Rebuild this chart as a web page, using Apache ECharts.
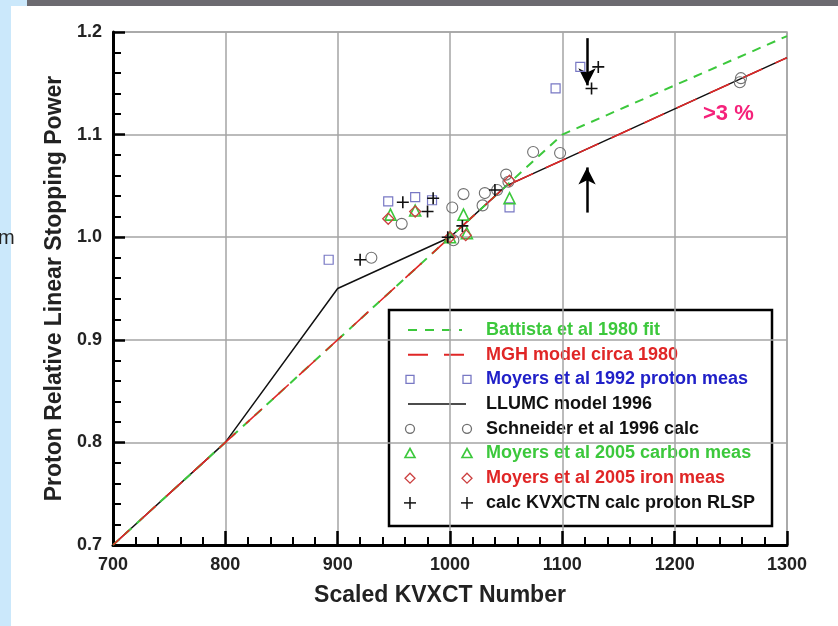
<!DOCTYPE html>
<html>
<head>
<meta charset="utf-8">
<script src="https://cdn.jsdelivr.net/npm/echarts@6/dist/echarts.min.js"></script>
<style>
  html, body { margin: 0; padding: 0; background: #fff; }
  #chart { width: 838px; height: 626px; }
</style>
</head>
<body>
<div id="chart"></div>
<script>
// ---- data ----
const xTicks = [700, 800, 900, 1000, 1100, 1200, 1300];
const yTicks = [0.7, 0.8, 0.9, 1.0, 1.1, 1.2];

// model curves [KVXCT number, relative stopping power]
const battistaFit = [[700, 0.7], [1100, 1.1], [1300, 1.196]];
const mghModel = [[700, 0.7], [1000, 1.0], [1050, 1.05], [1300, 1.175]];
const llumcModel = [[700, 0.7], [800, 0.8], [900, 0.95], [1000, 1.0], [1050, 1.05], [1300, 1.175]];

// measurements / calculations
const moyers1992Proton = [[892, 0.978], [945, 1.035], [969, 1.039], [984, 1.036], [1053, 1.029], [1094, 1.145], [1116, 1.166]];
const schneider1996 = [[930, 0.980], [957, 1.013], [1002, 1.029], [1003, 0.997], [1012, 1.042], [1029, 1.031], [1031, 1.043],
  [1042, 1.046], [1050, 1.061], [1052, 1.054], [1074, 1.083], [1098, 1.082], [1258, 1.151], [1259, 1.155]];
const moyers2005Carbon = [[947, 1.022], [969, 1.026], [1000, 1.0], [1012, 1.022], [1015, 1.004], [1053, 1.038]];
const moyers2005Iron = [[945, 1.018], [969, 1.025], [1000, 1.0], [1014, 1.002], [1053, 1.055]];
const kvxctnProton = [[920, 0.978], [958, 1.034], [980, 1.025], [985, 1.038], [998, 1.0], [1011, 1.011], [1040, 1.046], [1126, 1.145], [1132, 1.166]];

// arrows marking the gap between the two model families
const arrowX = 1122;
const downArrow = [1.194, 1.148];
const upArrow = [1.024, 1.068];

const legendLabels = [
  'Battista et al 1980 fit',
  'MGH model circa 1980',
  'Moyers et al 1992 proton meas',
  'LLUMC model 1996',
  'Schneider et al 1996 calc',
  'Moyers et al 2005 carbon meas',
  'Moyers et al 2005 iron meas',
  'calc KVXCTN calc proton RLSP'
];

// ---- styling ----
const FONT = '"Liberation Sans", Arial, sans-serif';
const C = {
  green: '#3cc83c', red: '#e02626', blueText: '#2020c8', square: '#7878c4',
  circle: '#707070', tri: '#3cc83c', diamond: '#cc4040', black: '#111',
  grid: '#a4a4a4', pink: '#f5217a'
};
const PLUS = 'path://M0,6L12,6M6,0L6,12';

const chart = echarts.init(document.getElementById('chart'), null, { renderer: 'canvas' });

function scatter(name, data, symbol, size, color, width) {
  return {
    name, type: 'scatter', data, symbol, symbolSize: size, z: 5,
    itemStyle: { color: 'rgba(0,0,0,0)', borderColor: color, borderWidth: width, opacity: 1 },
    emphasis: { disabled: true }
  };
}
function line(name, data, color, type, width, z) {
  return {
    name, type: 'line', data, showSymbol: false, symbol: 'none', z,
    lineStyle: { color, type, width },
    emphasis: { disabled: true }
  };
}

// legend drawn as a boxed panel
const LX = 389, LY = 310, LW = 383, LH = 216, ROW0 = 330, ROWH = 24.7;
const legendTextColors = [C.green, C.red, C.blueText, C.black, C.black, C.green, C.red, C.black];
function markerShape(kind, cx, cy) {
  const s = { fill: 'none', lineWidth: 1.3 };
  if (kind === 'square') return { type: 'rect', shape: { x: cx - 4, y: cy - 4, width: 8, height: 8 }, style: { ...s, stroke: C.square } };
  if (kind === 'circle') return { type: 'circle', shape: { cx, cy, r: 4.5 }, style: { ...s, stroke: C.circle } };
  if (kind === 'tri') return { type: 'polygon', shape: { points: [[cx, cy - 5], [cx + 5, cy + 4], [cx - 5, cy + 4]] }, style: { ...s, stroke: C.tri, lineWidth: 1.6 } };
  if (kind === 'diamond') return { type: 'polygon', shape: { points: [[cx, cy - 5], [cx + 5, cy], [cx, cy + 5], [cx - 5, cy]] }, style: { ...s, stroke: C.diamond } };
  return { type: 'group', children: [
    { type: 'line', shape: { x1: cx - 6, y1: cy, x2: cx + 6, y2: cy }, style: { stroke: C.black, lineWidth: 1.5 } },
    { type: 'line', shape: { x1: cx, y1: cy - 6, x2: cx, y2: cy + 6 }, style: { stroke: C.black, lineWidth: 1.5 } }
  ] };
}
const legendGlyphs = ['dashG', 'dashR', 'square', 'solid', 'circle', 'tri', 'diamond', 'plus'];
const legendChildren = [
  { type: 'rect', shape: { x: LX, y: LY, width: LW, height: LH }, style: { fill: '#fff', stroke: '#000', lineWidth: 2.5 } }
];
legendGlyphs.forEach((g, i) => {
  const cy = ROW0 + i * ROWH;
  if (g === 'dashG') {
    legendChildren.push({ type: 'line', shape: { x1: 408, y1: cy, x2: 462, y2: cy }, style: { stroke: C.green, lineWidth: 2, lineDash: [9, 8] } });
  } else if (g === 'dashR') {
    legendChildren.push({ type: 'line', shape: { x1: 408, y1: cy, x2: 468, y2: cy }, style: { stroke: C.red, lineWidth: 2, lineDash: [20, 16] } });
  } else if (g === 'solid') {
    legendChildren.push({ type: 'line', shape: { x1: 408, y1: cy, x2: 466, y2: cy }, style: { stroke: C.black, lineWidth: 1.5 } });
  } else {
    legendChildren.push(markerShape(g, 410, cy));
    legendChildren.push(markerShape(g, 467, cy));
  }
  legendChildren.push({
    type: 'text', style: {
      x: 486, y: cy, text: legendLabels[i], fill: legendTextColors[i],
      font: 'bold 18px ' + FONT, textVerticalAlign: 'middle'
    }
  });
});

const option = {
  animation: false,
  backgroundColor: '#fff',
  grid: { left: 113, top: 32, right: 51, bottom: 81, show: true, borderColor: C.grid, borderWidth: 1.5 },
  xAxis: {
    type: 'value', min: xTicks[0], max: xTicks[xTicks.length - 1], interval: 100,
    name: 'Scaled KVXCT Number', nameLocation: 'middle', nameGap: 39,
    nameTextStyle: { fontFamily: FONT, fontWeight: 'bold', fontSize: 23, color: '#222', padding: [0, 20, 0, 0] },
    axisLine: { show: true, onZero: false, lineStyle: { color: '#000', width: 3 } },
    axisTick: { show: true, inside: true, length: 14, lineStyle: { color: '#000', width: 2.5 } },
    minorTick: { show: true, splitNumber: 5, length: 8, lineStyle: { color: '#000', width: 2 } },
    splitLine: { show: true, lineStyle: { color: C.grid, width: 1.5 } },
    axisLabel: { fontFamily: FONT, fontWeight: 'bold', fontSize: 18, color: '#222', margin: 11,
      formatter: v => String(v) }
  },
  yAxis: {
    type: 'value', min: yTicks[0], max: yTicks[yTicks.length - 1], interval: 0.1,
    name: 'Proton Relative Linear Stopping Power', nameLocation: 'middle', nameGap: 47,
    nameTextStyle: { fontFamily: FONT, fontWeight: 'bold', fontSize: 23, color: '#222' },
    axisLine: { show: true, onZero: false, lineStyle: { color: '#000', width: 3 } },
    axisTick: { show: true, inside: true, length: 12, lineStyle: { color: '#000', width: 2.5 } },
    minorTick: { show: true, splitNumber: 5, length: 8, lineStyle: { color: '#000', width: 2 } },
    splitLine: { show: true, lineStyle: { color: C.grid, width: 1.5 } },
    axisLabel: { fontFamily: FONT, fontWeight: 'bold', fontSize: 18, color: '#222', margin: 11,
      formatter: v => v.toFixed(1) }
  },
  series: [
    line('LLUMC model 1996', llumcModel, C.black, 'solid', 1.5, 2),
    line('Battista et al 1980 fit', battistaFit, C.green, [9, 7], 2, 3),
    line('MGH model circa 1980', mghModel, C.red, [22, 14], 1.6, 4),
    scatter('Moyers et al 1992 proton meas', moyers1992Proton, 'rect', 9, C.square, 1.2),
    scatter('Schneider et al 1996 calc', schneider1996, 'circle', 11, C.circle, 1.1),
    scatter('Moyers et al 2005 carbon meas', moyers2005Carbon, 'triangle', 11, C.tri, 1.6),
    scatter('Moyers et al 2005 iron meas', moyers2005Iron, 'diamond', 11, C.diamond, 1.3),
    {
      ...scatter('calc KVXCTN calc proton RLSP', kvxctnProton, PLUS, 12, C.black, 1.6),
      markLine: {
        silent: true, symbol: ['none', 'arrow'], symbolSize: [13, 17], animation: false,
        label: { show: false },
        lineStyle: { color: '#000', width: 2.5, type: 'solid' },
        data: [
          [{ coord: [arrowX, downArrow[0]] }, { coord: [arrowX, downArrow[1]] }],
          [{ coord: [arrowX, upArrow[0]] }, { coord: [arrowX, upArrow[1]] }]
        ]
      }
    }
  ],
  graphic: [
    { type: 'rect', z: -1, shape: { x: 0, y: 0, width: 11, height: 626 }, style: { fill: '#cbe8fb' } },
    { type: 'rect', z: -1, shape: { x: 0, y: 0, width: 27, height: 6 }, style: { fill: '#cbe8fb' } },
    { type: 'rect', z: -1, shape: { x: 27, y: 0, width: 811, height: 6 }, style: { fill: '#6c6a70' } },
    { type: 'text', style: { x: -2, y: 238, text: 'm', font: '20px ' + FONT, fill: '#222', textVerticalAlign: 'middle' } },
    { type: 'text', style: { x: 703, y: 114, text: '>3 %', font: 'bold 22px ' + FONT, fill: C.pink, textVerticalAlign: 'middle' } },
    { type: 'group', z: 10, children: legendChildren }
  ]
};
chart.setOption(option);
</script>
</body>
</html>
